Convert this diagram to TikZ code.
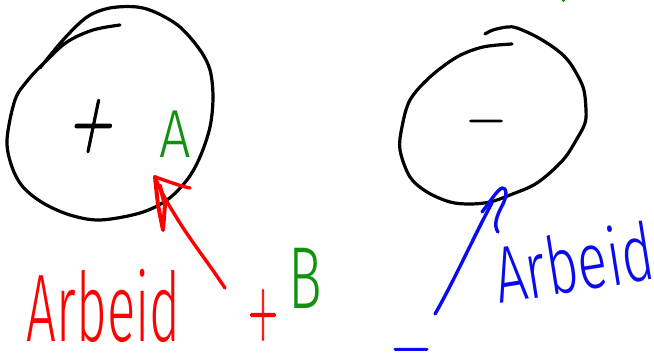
\documentclass[tikz,border=0pt]{standalone}
\usepackage{fontspec}
\newfontfamily\hand{Fira Sans Light}
\newfontfamily\signfont[FakeBold=2]{Latin Modern Roman}
\newfontfamily\leansign[FakeBold=2,FakeSlant=0.3]{Latin Modern Roman}
\definecolor{inkred}{RGB}{255,0,0}
\definecolor{inkgreen}{RGB}{16,145,16}
\definecolor{inkblue}{RGB}{10,10,240}
\begin{document}
\begin{tikzpicture}[x=1pt,y=-1pt,line cap=round,line join=round,
  pen/.style={line width=3.2pt,draw=black},
  redpen/.style={line width=3.4pt,draw=inkred},
  bluepen/.style={line width=3.4pt,draw=inkblue},
  script/.style={inner sep=0pt,outer sep=0pt,font=\hand},
  sign/.style={inner sep=0pt,outer sep=0pt,font=\signfont},
]
\useasboundingbox (0,0) rectangle (654,358);

% left circle, one stroke with its overlapping start at the top
\draw[pen] plot[smooth,tension=0.55] coordinates {
  (120,25) (93,30) (67,42) (45,62) (28,80) (15,100) (7,140) (12,167)
  (23,187) (43,203) (70,215) (100,220) (140,213) (167,200) (187,180)
  (200,157) (210,127) (213,97) (210,70) (200,50) (180,27) (157,13)
  (137,7) (110,8) (87,17) (63,40) (40,68)};

% right circle
\draw[pen] plot[smooth,tension=0.55] coordinates {
  (512,44) (483,47) (457,57) (430,77) (410,100) (402,127) (400,150)
  (410,177) (427,192) (450,202) (470,204) (490,202) (510,195) (537,183)
  (563,160) (578,137) (585,123) (586,110) (583,87) (570,63) (557,50)
  (537,37) (517,28) (507,27) (493,30) (485,34)};

% signs inside the circles
\node[sign,anchor=center] (plussign) at (89,126)
  {\leansign\fontsize{58}{58}\selectfont\scalebox{1}[1.45]{+}};
\node[sign,anchor=base] (minussign) at (486,134)
  {\fontsize{52}{52}\selectfont −};

% green labels
\node[script,anchor=base west,text=inkgreen] (labelA) at (159,158)
  {\fontsize{68}{68}\selectfont\scalebox{0.82}[1]{A}};
\node[script,anchor=base west,text=inkgreen] (labelB) at (288,309)
  {\fontsize{88}{88}\selectfont\scalebox{0.64}[1]{B}};
\fill[inkgreen] (563.5,0.5) circle (1.6pt);

% red part: work plus B, arrow into the left circle
\node[script,anchor=base west,text=inkred] (redword) at (27,342)
  {\fontsize{96}{96}\selectfont\scalebox{0.55}[1]{Arbeid}};
\node[sign,anchor=center,text=inkred] (redplus) at (263,315)
  {\fontsize{46}{46}\selectfont\scalebox{0.88}[1.75]{+}};
\coordinate (redtail) at (225,288);
\coordinate (redtip) at (155,177);
\draw[redpen] (redtail) .. controls (205,258) and (190,240) .. (175,215)
  .. controls (168,204) and (160,190) .. (redtip);
\draw[redpen] (redtip) .. controls (170,182) and (180,186) .. (190,188);
\draw[redpen,line width=4pt] (redtip) -- (158,205) -- (163,230)
  -- (165,205) -- (160,186);

% blue part: minus work, arrow out of the right circle
\node[script,anchor=base west,text=inkblue,rotate=9] (blueword) at (499,304)
  {\fontsize{80}{80}\selectfont\scalebox{0.69}[1]{Arbeid}};
\node[sign,anchor=base,text=inkblue] (blueminus) at (411,363)
  {\fontsize{54}{54}\selectfont −};
\coordinate (bluetail) at (435,314);
\coordinate (bluetip) at (502,188);
\draw[bluepen] (bluetail) .. controls (452,285) and (478,228) .. (492,203);
\draw[bluepen] (482,212) .. controls (490,202) and (497,190) .. (bluetip)
  .. controls (507,187) and (507,196) .. (503,204)
  .. controls (497,215) and (493,225) .. (498,232);
\end{tikzpicture}
\end{document}
